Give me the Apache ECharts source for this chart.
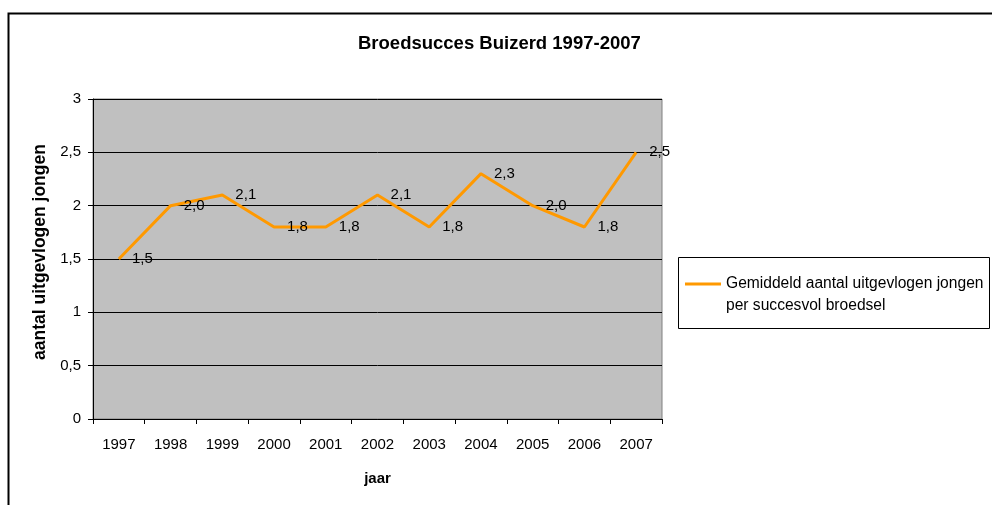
<!DOCTYPE html>
<html><head><meta charset="utf-8">
<script src="https://cdn.jsdelivr.net/npm/echarts@6/dist/echarts.min.js"></script>
<style>html,body{margin:0;padding:0;background:#fff}#c{width:992px;height:505px}</style>
</head><body><div id="c"></div>
<script>
const years = ['1997','1998','1999','2000','2001','2002','2003','2004','2005','2006','2007'];
const values = [1.5, 2.0, 2.1, 1.8, 1.8, 2.1, 1.8, 2.3, 2.0, 1.8, 2.5];
const seriesName = 'Gemiddeld aantal uitgevlogen jongen\nper succesvol broedsel';
const titleText = 'Broedsucces Buizerd 1997-2007';
const yName = 'aantal uitgevlogen jongen';
const xName = 'jaar';

const FONT = 'Liberation Sans, Arial, sans-serif';
const chart = echarts.init(document.getElementById('c'));
chart.setOption({
  animation: false,
  textStyle: { fontFamily: FONT },
  title: {
    text: titleText, left: 353, top: 29,
    textStyle: { fontFamily: FONT, fontSize: 18.5, fontWeight: 'bold', color: '#000' }
  },
  graphic: [
    { type: 'rect', shape: { x: 8.5, y: 13.5, width: 1100, height: 700 },
      style: { fill: 'none', stroke: '#000', lineWidth: 2 }, silent: true, z: 0 },
    { type: 'rect', shape: { x: 678.5, y: 257.5, width: 311, height: 71 },
      style: { fill: '#fff', stroke: '#000', lineWidth: 1 }, silent: true, z: 1 }
  ],
  legend: {
    left: 680, top: 268, orient: 'vertical',
    icon: 'path://M0,0h36v3h-36zM0,24.9h0.1v0.1h-0.1z',
    symbolKeepAspect: false,
    itemWidth: 36, itemHeight: 25, itemGap: 6,
    z: 5,
    textStyle: { fontFamily: FONT, fontSize: 15.6, color: '#000', lineHeight: 22 }
  },
  grid: {
    left: 93, top: 99, right: 330, bottom: 86,
    show: true, backgroundColor: '#c0c0c0', borderColor: '#808080', borderWidth: 1
  },
  xAxis: {
    type: 'category', data: years, boundaryGap: true,
    name: xName, nameLocation: 'middle', nameGap: 52,
    nameTextStyle: { fontFamily: FONT, fontSize: 15, fontWeight: 'bold', color: '#000' },
    axisLine: { lineStyle: { color: '#000', width: 1 } },
    axisTick: { show: true, length: 5, lineStyle: { color: '#000' } },
    axisLabel: { fontFamily: FONT, fontSize: 15, color: '#000', margin: 18 },
    splitLine: { show: false }
  },
  yAxis: {
    type: 'value', min: 0, max: 3, interval: 0.5,
    name: yName, nameLocation: 'middle', nameGap: 35,
    nameTextStyle: { fontFamily: FONT, fontSize: 17.5, fontWeight: 'bold', color: '#000',
      padding: [0, 0, 0, 14] },
    axisLine: { show: true, lineStyle: { color: '#000', width: 1 } },
    axisTick: { show: true, length: 5, lineStyle: { color: '#000' } },
    axisLabel: { fontFamily: FONT, fontSize: 15, color: '#000', margin: 12,
      formatter: v => String(v).replace('.', ',') },
    splitLine: { show: true, lineStyle: { color: '#000', width: 1 } }
  },
  series: [{
    name: seriesName, type: 'line', data: values,
    symbol: 'circle', symbolSize: 0.1, showSymbol: true,
    itemStyle: { color: '#FF9900' },
    lineStyle: { color: '#FF9900', width: 3 },
    label: { show: true, position: 'right', distance: 13, fontFamily: FONT, fontSize: 15, color: '#000',
      formatter: p => p.value.toFixed(1).replace('.', ',') },
    z: 3
  }]
});
</script></body></html>
